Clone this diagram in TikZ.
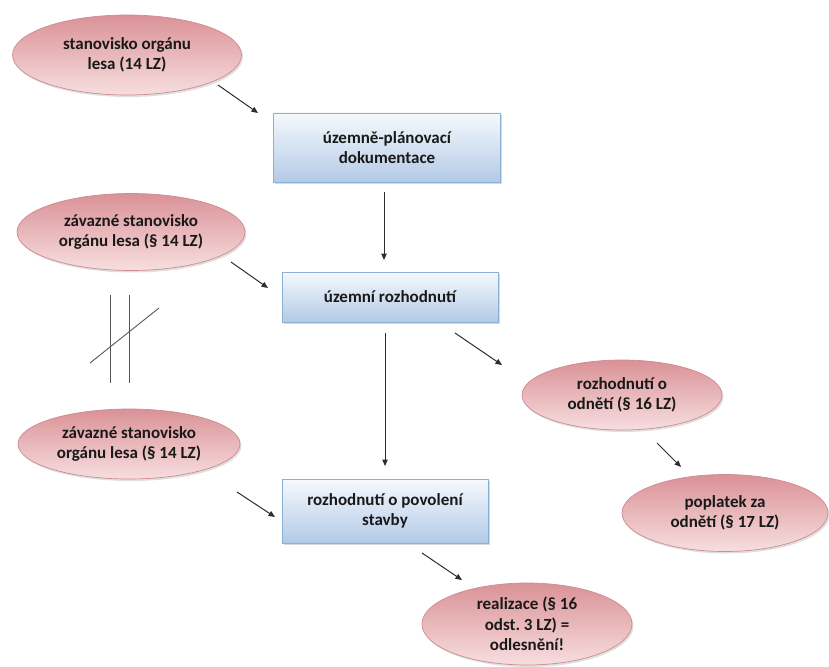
\documentclass[tikz,border=0pt]{standalone}
\usepackage{fontspec}
\setmainfont{Carlito}
\frenchspacing
\usetikzlibrary{shapes.geometric,arrows.meta,shadows}
\definecolor{elltop}{RGB}{218,146,151}
\definecolor{ellbot}{RGB}{247,222,223}
\definecolor{ellborder}{RGB}{205,140,144}
\definecolor{boxtop}{RGB}{246,249,253}
\definecolor{boxbot}{RGB}{178,202,230}
\definecolor{boxborder}{RGB}{140,175,215}
\definecolor{linec}{RGB}{45,45,45}
\begin{document}
\begin{tikzpicture}[x=1pt,y=-1pt,
  every node/.style={font=\fontsize{17}{20.5}\selectfont\bfseries, text=black!90, align=center, inner sep=0pt},
  ell/.style={ellipse, draw=ellborder, line width=0.7pt, top color=elltop, bottom color=ellbot,
    drop shadow={opacity=0.25, shadow xshift=1.5pt, shadow yshift=-2pt}},
  bx/.style={rectangle, draw=boxborder, line width=0.8pt, top color=boxtop, bottom color=boxbot,
    drop shadow={opacity=0.3, shadow xshift=1.5pt, shadow yshift=-2pt}},
  conn/.style={draw=linec, line width=1pt, -{Triangle[length=6.5pt,width=5.5pt]}},
  hashline/.style={draw=linec!80, line width=0.9pt}]
\useasboundingbox (0,0) rectangle (829,666);

% nodes
\node[ell, minimum width=229pt, minimum height=80pt] (e1) at (127,55) {stanovisko orgánu\\lesa (14 LZ)};
\node[bx, minimum width=227pt, minimum height=69pt] (b1) at (387,147.5) {územně-plánovací\\dokumentace};
\node[ell, minimum width=228pt, minimum height=77pt] (e2) at (131,232) {závazné stanovisko\\orgánu lesa (§ 14 LZ)};
\node[bx, minimum width=216pt, minimum height=50pt] (b2) at (390,297) {územní rozhodnutí};
\node[ell, minimum width=222pt, minimum height=70pt] (e3) at (129,444) {závazné stanovisko\\orgánu lesa (§ 14 LZ)};
\node[bx, minimum width=206pt, minimum height=64pt] (b3) at (385,511) {rozhodnutí o povolení\\stavby};
\node[ell, minimum width=200pt, minimum height=70pt] (e4) at (622,395) {rozhodnutí o\\odnětí (§ 16 LZ)};
\node[ell, minimum width=206pt, minimum height=77pt] (e5) at (725,513) {poplatek za\\odnětí (§ 17 LZ)};
\node[ell, minimum width=210pt, minimum height=82pt] (e6) at (527,624) {realizace (§ 16\\odst. 3 LZ) =\\odlesnění!};

% connector end points
\coordinate (a1s) at (218,85);  \coordinate (a1e) at (258,113);
\coordinate (v1s) at (384,192); \coordinate (v1e) at (384,260);
\coordinate (a2s) at (231,262); \coordinate (a2e) at (268,288);
\coordinate (v2s) at (385,333); \coordinate (v2e) at (385,466);
\coordinate (a3s) at (237,492); \coordinate (a3e) at (275,517);
\coordinate (a4s) at (455,333); \coordinate (a4e) at (502,365);
\coordinate (a5s) at (657,443); \coordinate (a5e) at (681,467);
\coordinate (a6s) at (422,553); \coordinate (a6e) at (462,580);

\draw[conn] (a1s) -- (a1e);
\draw[conn] (v1s) -- (v1e);
\draw[conn] (a2s) -- (a2e);
\draw[conn] (v2s) -- (v2e);
\draw[conn] (a3s) -- (a3e);
\draw[conn] (a4s) -- (a4e);
\draw[conn] (a5s) -- (a5e);
\draw[conn] (a6s) -- (a6e);

% "not equal" hash
\coordinate (h1t) at (110,295); \coordinate (h1b) at (110,383);
\coordinate (h2t) at (129,295); \coordinate (h2b) at (129,383);
\coordinate (h3a) at (90,363);  \coordinate (h3b) at (159,308);
\draw[hashline] (h1t) -- (h1b);
\draw[hashline] (h2t) -- (h2b);
\draw[hashline] (h3a) -- (h3b);
\end{tikzpicture}
\end{document}
